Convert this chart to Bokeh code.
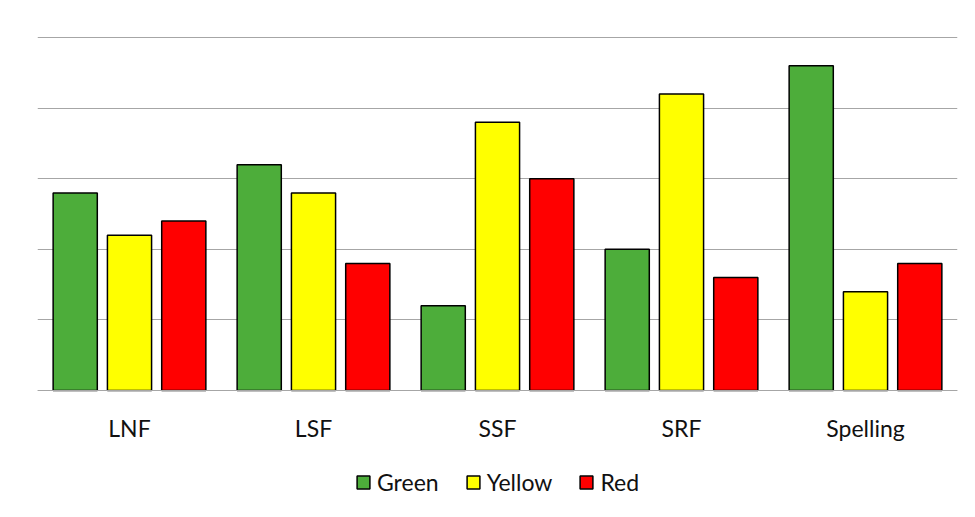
from bokeh.plotting import figure
from bokeh.models import ColumnDataSource, FactorRange, Legend, LegendItem, FixedTicker
from bokeh.transform import dodge
from bokeh.embed import file_html
from bokeh.resources import INLINE

categories = ["LNF", "LSF", "SSF", "SRF", "Spelling"]
green = [2.8, 3.2, 1.2, 2.0, 4.6]
yellow = [2.2, 2.8, 3.8, 4.2, 1.4]
red = [2.4, 1.8, 3.0, 1.6, 1.8]
series_names = ["Green", "Yellow", "Red"]
colors = ["#4DAD3A", "#FFFF00", "#FF0000"]

source = ColumnDataSource(dict(cat=categories, Green=green, Yellow=yellow, Red=red))

p = figure(x_range=FactorRange(factors=categories, range_padding=0),
           y_range=(-1.7, 5.03), width=966, height=510,
           output_backend="svg", toolbar_location=None,
           min_border_left=37, min_border_right=9, min_border_top=35, min_border_bottom=0)

offsets = [-0.295, 0.0, 0.295]
renderers = []
for name, col, off in zip(series_names, colors, offsets):
    r = p.vbar(x=dodge("cat", off, range=p.x_range), top=name, width=0.24, bottom=0,
               source=source, fill_color=col, line_color="black", line_width=1.5)
    renderers.append(r)

p.yaxis.visible = False
p.ygrid.ticker = FixedTicker(ticks=[0, 1, 2, 3, 4, 5])
p.ygrid.grid_line_color = "#A6A6A6"
p.ygrid.grid_line_width = 1
p.xgrid.grid_line_color = None
p.outline_line_color = None

p.xaxis.fixed_location = 0
p.xaxis.axis_line_color = "#A6A6A6"
p.xaxis.major_tick_line_color = None
p.xaxis.minor_tick_line_color = None
p.xaxis.major_label_text_font = "Lato"
p.xaxis.major_label_text_font_size = "23px"
p.xaxis.major_label_text_color = "#111111"
p.xaxis.major_label_standoff = 17

legend = Legend(items=[LegendItem(label=n, renderers=[r]) for n, r in zip(series_names, renderers)],
                orientation="horizontal", location=(318, 14),
                label_text_font="Lato", label_text_font_size="23px",
                label_text_color="#111111",
                glyph_width=16, glyph_height=16, spacing=26, label_standoff=6,
                border_line_color=None, background_fill_alpha=0, padding=0, margin=0)
p.add_layout(legend, "center")

open("out.html", "w").write(file_html(p, INLINE))
